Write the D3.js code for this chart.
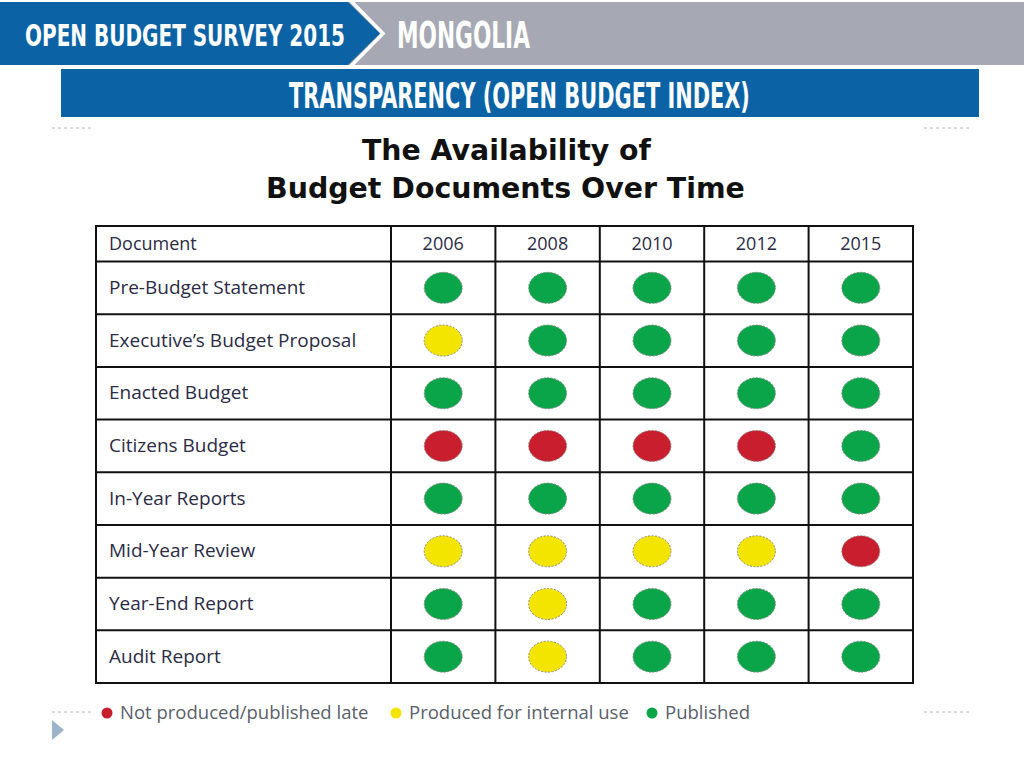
<!DOCTYPE html>
<html><head><meta charset="utf-8">
<script src="https://cdn.jsdelivr.net/npm/d3@7"></script>
<style>body{margin:0;background:#fff;}svg{display:block;}</style>
</head><body>
<svg id="c" width="1024" height="768"></svg>
<script>
const documents = ["Pre-Budget Statement","Executive\u2019s Budget Proposal","Enacted Budget","Citizens Budget","In-Year Reports","Mid-Year Review","Year-End Report","Audit Report"];
const years = ["2006","2008","2010","2012","2015"];
// status codes: P = Published, I = Produced for internal use, N = Not produced/published late
const status2006 = ["P","I","P","N","P","I","P","P"];
const status2008 = ["P","P","P","N","P","I","I","I"];
const status2010 = ["P","P","P","N","P","I","P","P"];
const status2012 = ["P","P","P","N","P","I","P","P"];
const status2015 = ["P","P","P","P","P","N","P","P"];
const statusByYear = [status2006,status2008,status2010,status2012,status2015];
const legendKeys = ["N","I","P"];
const legendLabels = ["Not produced/published late","Produced for internal use","Published"];

(function(){
const color = d3.scaleOrdinal().domain(["N","I","P"]).range(["#c81e2d","#f4e500","#0aa548"]);
const svg = d3.select("#c");
const blue = "#0b63a6", gray = "#a6a9b3";
const cond = "'Liberation Sans Narrow','DejaVu Sans Condensed',sans-serif";

// fit a text horizontally to a target width, anchored at (ax, ay)
function fit(t, w, ax, ay){
  const n = t.node().getComputedTextLength();
  const s = w / n;
  t.attr("transform", `translate(${ax},${ay}) scale(${s},1) translate(${-ax},${-ay})`);
  return t;
}

// header
svg.append("rect").attr("x",0).attr("y",2).attr("width",1024).attr("height",63).attr("fill",gray);
svg.append("path").attr("d","M0,2 L348,2 L380,33.5 L348,65 L0,65 Z").attr("fill",blue);
svg.append("path").attr("d","M350,0 L383,33.5 L350,67").attr("fill","none").attr("stroke","#fff").attr("stroke-width",3.5);
fit(svg.append("text").attr("x",25).attr("y",46).attr("fill","#fff").attr("font-family",cond).attr("font-weight","bold")
  .attr("font-size",31).text("OPEN BUDGET SURVEY 2015"), 320, 25, 46);
fit(svg.append("text").attr("x",397).attr("y",48).attr("fill","#fff").attr("font-family",cond).attr("font-weight","bold")
  .attr("font-size",38).text("MONGOLIA"), 133, 397, 48);
svg.append("rect").attr("x",61).attr("y",69).attr("width",918).attr("height",48).attr("fill",blue);
fit(svg.append("text").attr("x",289).attr("y",108).attr("fill","#fff").attr("font-family",cond).attr("font-weight","bold")
  .attr("font-size",35).text("TRANSPARENCY (OPEN BUDGET INDEX)"), 461, 289, 108);

// dashed decorations
[[52,93,128],[924,972,128],[52,93,712],[924,972,712]].forEach(([x1,x2,yy])=>{
  svg.append("line").attr("x1",x1).attr("x2",x2).attr("y1",yy).attr("y2",yy)
    .attr("stroke","#b8b8b8").attr("stroke-width",1).attr("stroke-dasharray","3,3");
});
svg.append("path").attr("d","M52,720 L64,730 L52,740 Z").attr("fill","#9db4cc");

// title
const tf = "'DejaVu Sans','Open Sans',sans-serif";
fit(svg.append("text").attr("x",362).attr("y",160).attr("font-family",tf).attr("font-weight","bold")
  .attr("font-size",28).attr("fill","#111").text("The Availability of"), 289, 362, 160);
fit(svg.append("text").attr("x",266).attr("y",198).attr("font-family",tf).attr("font-weight","bold")
  .attr("font-size",28).attr("fill","#111").text("Budget Documents Over Time"), 479, 266, 198);

// table
const tLeft = 96, tRight = 913, tTop = 226, headB = 261.5, tBottom = 683, col1 = 391;
const x = d3.scaleBand().domain(years).range([col1,tRight]);
const y = d3.scaleBand().domain(documents).range([headB,tBottom]);
const g = svg.append("g");
g.append("rect").attr("x",tLeft).attr("y",tTop).attr("width",tRight-tLeft).attr("height",tBottom-tTop)
  .attr("fill","none").attr("stroke","#111").attr("stroke-width",2);
g.append("line").attr("x1",tLeft).attr("x2",tRight).attr("y1",headB).attr("y2",headB).attr("stroke","#111").attr("stroke-width",2);
g.selectAll(".hl").data(documents.slice(1)).join("line").attr("x1",tLeft).attr("x2",tRight)
  .attr("y1",d=>y(d)).attr("y2",d=>y(d)).attr("stroke","#111").attr("stroke-width",2);
g.selectAll(".vl").data(years).join("line").attr("y1",tTop).attr("y2",tBottom)
  .attr("x1",d=>x(d)).attr("x2",d=>x(d)).attr("stroke","#111").attr("stroke-width",2);

const lf = "'Open Sans','Noto Sans',sans-serif";
const txtCol = "#2b2b45";
const fs = 19;
g.append("text").attr("x",109).attr("y",(tTop+headB)/2+6).attr("font-family",lf).attr("font-weight",500).attr("font-size",fs-1).attr("fill",txtCol).text("Document");
g.selectAll(".yr").data(years).join("text").attr("x",d=>x(d)+x.bandwidth()/2).attr("y",(tTop+headB)/2+6)
  .attr("text-anchor","middle").attr("font-family",lf).attr("font-weight",500).attr("font-size",fs-1).attr("fill",txtCol).text(d=>d);
g.selectAll(".doc").data(documents).join("text").attr("x",109).attr("y",d=>y(d)+y.bandwidth()/2+6)
  .attr("font-family",lf).attr("font-weight",500).attr("font-size",fs).attr("fill",txtCol).text(d=>d);

const cells = [];
years.forEach((yr,i)=>documents.forEach((doc,j)=>cells.push({yr,doc,s:statusByYear[i][j]})));
g.selectAll(".dot").data(cells).join("ellipse")
  .attr("cx",d=>x(d.yr)+x.bandwidth()/2).attr("cy",d=>y(d.doc)+y.bandwidth()/2)
  .attr("rx",19).attr("ry",15.5).attr("fill",d=>color(d.s))
  .attr("stroke","#8a8a8a").attr("stroke-width",1).attr("stroke-dasharray","2,1.5");

// legend
const legX = [107,396,652];
const lg = svg.append("g");
legendKeys.forEach((k,i)=>{
  lg.append("circle").attr("cx",legX[i]).attr("cy",713).attr("r",5.5).attr("fill",color(k));
  lg.append("text").attr("x",legX[i]+13).attr("y",719).attr("font-family",lf).attr("font-size",18.5)
    .attr("fill","#5a5f6b").text(legendLabels[i]);
});
})();
</script>
</body></html>
